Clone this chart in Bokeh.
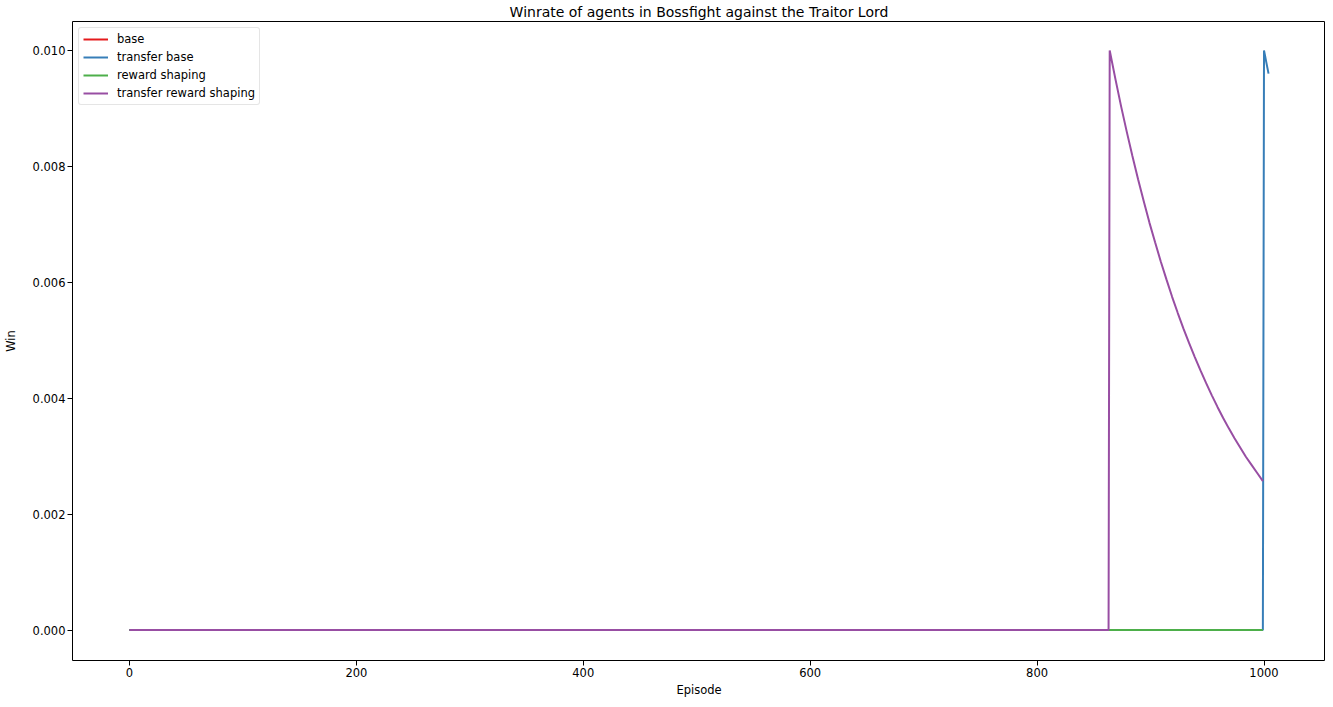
from bokeh.plotting import figure
from bokeh.models import Range1d, FixedTicker, NumeralTickFormatter, Legend, LegendItem
from bokeh.embed import file_html
from bokeh.resources import INLINE

# ---- data ----
base_ep = [0, 999]
base_win = [0.0, 0.0]

transfer_base_ep = [0, 999, 1000, 1001, 1002, 1003, 1004]
transfer_base_win = [0.0, 0.0, 0.0100, 0.0099, 0.0098, 0.0097, 0.0096]

reward_shaping_ep = [0, 999]
reward_shaping_win = [0.0, 0.0]

transfer_rs_ep = [0, 863, 864, 869, 874, 879, 884, 889, 894, 899, 904, 909, 914, 919,
                  924, 929, 934, 939, 944, 949, 954, 959, 964, 969, 974, 979, 984,
                  989, 994, 999]
transfer_rs_win = [0.0, 0.0, 0.01000, 0.00951, 0.00904, 0.00860, 0.00818, 0.00778,
                   0.00740, 0.00703, 0.00669, 0.00636, 0.00605, 0.00575, 0.00547,
                   0.00520, 0.00495, 0.00471, 0.00448, 0.00426, 0.00405, 0.00385,
                   0.00366, 0.00348, 0.00331, 0.00315, 0.00299, 0.00285, 0.00271,
                   0.00257]

x_ticks = [0, 200, 400, 600, 800, 1000]
y_ticks = [0.0, 0.002, 0.004, 0.006, 0.008, 0.010]

series = [
    ("base", base_ep, base_win, "#e41a1c"),
    ("transfer base", transfer_base_ep, transfer_base_win, "#377eb8"),
    ("reward shaping", reward_shaping_ep, reward_shaping_win, "#4daf4a"),
    ("transfer reward shaping", transfer_rs_ep, transfer_rs_win, "#984ea3"),
]

FONT = "DejaVu Sans"
FS = "11.5px"

p = figure(width=1325, height=699, output_backend="svg", toolbar_location=None,
           x_range=Range1d(-50.2, 1054.2), y_range=Range1d(-0.000525, 0.0105),
           title="Winrate of agents in Bossfight against the Traitor Lord",
           min_border_left=0, min_border_right=0, min_border_top=0, min_border_bottom=0)

p.title.align = "center"
p.title.text_font = FONT
p.title.text_font_size = "14px"
p.title.text_font_style = "normal"
p.title.text_color = "#000000"
p.title.standoff = 3

p.outline_line_color = "#000000"
p.outline_line_width = 1
p.xgrid.visible = False
p.ygrid.visible = False

for ax in (p.xaxis[0], p.yaxis[0]):
    ax.axis_label_text_font = FONT
    ax.axis_label_text_font_size = FS
    ax.axis_label_text_font_style = "normal"
    ax.axis_label_text_color = "#000000"
    ax.axis_label_text_line_height = 1.0
    ax.major_label_text_font = FONT
    ax.major_label_text_font_size = FS
    ax.major_label_text_color = "#000000"
    ax.major_label_text_line_height = 1.0
    ax.major_tick_out = 5
    ax.major_tick_in = 0
    ax.minor_tick_out = 0
    ax.minor_tick_in = 0
    ax.axis_line_color = None
    ax.major_tick_line_color = "#000000"
    ax.major_label_standoff = 2

p.xaxis.axis_label = "Episode"
p.yaxis.axis_label = "Win"
p.xaxis.ticker = FixedTicker(ticks=x_ticks)
p.yaxis.ticker = FixedTicker(ticks=y_ticks)
p.yaxis.formatter = NumeralTickFormatter(format="0.000")
p.xaxis.axis_label_standoff = 3
p.yaxis.axis_label_standoff = 12

items = []
for name, xs, ys, col in series:
    r = p.line(xs, ys, line_color=col, line_width=2)
    items.append(LegendItem(label=name, renderers=[r]))

legend = Legend(items=items, location="top_left")
legend.label_text_font = FONT
legend.label_text_font_size = FS
legend.label_text_color = "#000000"
legend.label_height = 12
legend.glyph_height = 12
legend.glyph_width = 25
legend.label_standoff = 9
legend.spacing = 4
legend.padding = 4
legend.margin = 6
legend.border_line_color = "#cccccc"
legend.border_line_width = 1
legend.border_radius = 3
legend.background_fill_alpha = 0.8
p.add_layout(legend)

open("out.html", "w").write(file_html(p, INLINE))
